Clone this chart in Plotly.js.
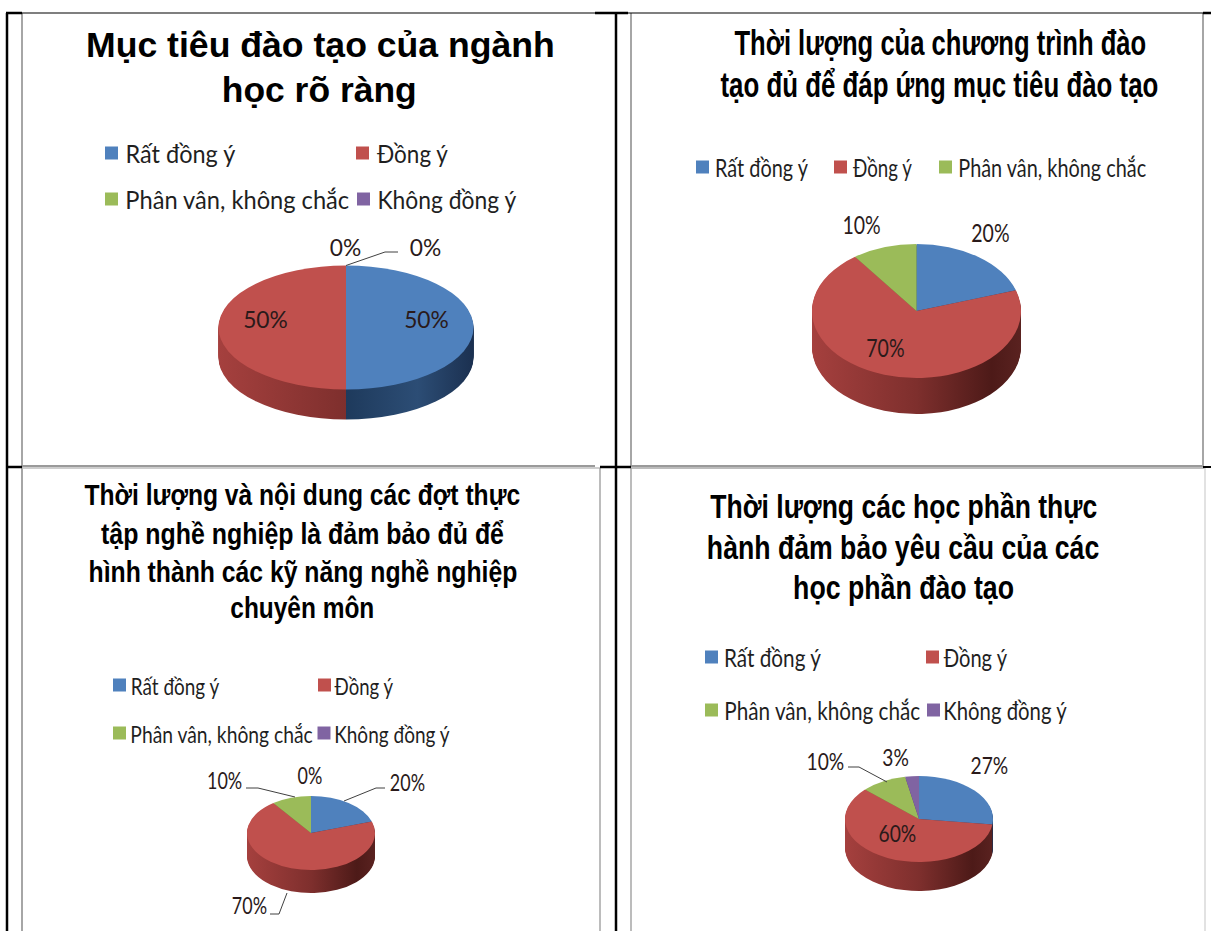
<!DOCTYPE html>
<html>
<head>
<meta charset="utf-8">
<title>Khảo sát chương trình đào tạo</title>
<script src="https://cdn.plot.ly/plotly-3.0.1.min.js"></script>
<style>html,body{margin:0;padding:0;background:#fff}#chart{width:1211px;height:931px}</style>
</head>
<body>
<div id="chart"></div>
<script>
// Survey answers, one array per question (percent of respondents).
const categories = ["Rất đồng ý", "Đồng ý", "Phân vân, không chắc", "Không đồng ý"];
const goalsClear = [50, 50, 0, 0];
const programLength = [20, 70, 10];
const internship = [20, 70, 10, 0];
const practiceModules = [27, 60, 10, 3];

const titleGoals = ["Mục tiêu đào tạo của ngành", "học rõ ràng"];
const titleProgram = ["Thời lượng của chương trình đào", "tạo đủ để đáp ứng mục tiêu đào tạo"];
const titleInternship = ["Thời lượng và nội dung các đợt thực", "tập nghề nghiệp là đảm bảo đủ để", "hình thành các kỹ năng nghề nghiệp", "chuyên môn"];
const titlePractice = ["Thời lượng các học phần thực", "hành đảm bảo yêu cầu của các", "học phần đào tạo"];

// Office-style slice colours and the side-wall shading for each of them.
const sliceColors = ["#4F81BD", "#C0504D", "#9BBB59", "#8064A2"];
const wallStops = [
  [[0, "#2a4a70"], [0.5, "#1e3a5c"], [0.78, "#2c4d75"], [1, "#1b3050"]],
  [[0, "#a5403e"], [0.5, "#7e2f2d"], [0.86, "#4d1a18"], [1, "#5a2220"]],
  [[0, "#6f8a3e"], [1, "#4f6330"]],
  [[0, "#5c4776"], [1, "#42335a"]]
];

const W = 1211, H = 931;
const px = x => x / W;
const py = y => 1 - y / H;

// Page layout for each of the four charts, in pixels.
const panels = [
  {
    values: goalsClear, title: titleGoals,
    pie: {cx: 346, cy: 327.5, rx: 127.5, ry: 62, depth: 30},
    titleFont: 35,
    titleLines: [[86, 555, 45], [222, 417, 89]],
    legendFont: 25,
    legend: [[105, 125, 235, 153], [356, 377, 448, 153], [105, 125, 349, 199], [357, 377, 516, 199]],
    labelFont: 24, labelStretch: 0.95,
    labels: [[426, 318], [265, 318], [345, 246], [425, 246]],
    leaders: [[[346, 265.5], [385, 252], [398, 252]]]
  },
  {
    values: programLength, title: titleProgram,
    pie: {cx: 916.5, cy: 311, rx: 104.5, ry: 67, depth: 36},
    titleFont: 35,
    titleLines: [[734, 1146, 43], [720, 1158, 85]],
    legendFont: 25,
    legend: [[696, 715, 808, 167], [834, 853, 912, 167], [939, 958, 1146, 167]],
    labelFont: 25, labelStretch: 0.78,
    labels: [[990, 232], [885, 347], [862, 224]],
    leaders: []
  },
  {
    values: internship, title: titleInternship,
    pie: {cx: 311, cy: 833, rx: 64, ry: 37, depth: 23},
    titleFont: 30,
    titleLines: [[84, 520, 494], [101, 504, 533], [88, 517, 571], [230, 374, 607]],
    legendFont: 24,
    legend: [[113, 130.5, 219.5, 685], [318, 334, 393, 685], [113, 130.5, 313, 733], [317.5, 334, 450, 733]],
    labelFont: 23, labelStretch: 0.78,
    labels: [[407, 782], [249, 905], [225, 780], [310, 775]],
    leaders: [
      [[246, 788], [258, 788], [295, 797]],
      [[385, 788], [376, 788], [344, 801]],
      [[270, 914], [279, 914], [287, 893]]
    ]
  },
  {
    values: practiceModules, title: titlePractice,
    pie: {cx: 919, cy: 819, rx: 74, ry: 43, depth: 29},
    titleFont: 33,
    titleLines: [[710, 1097, 507], [707, 1099.5, 547], [793, 1014, 587]],
    legendFont: 25,
    legend: [[705, 724, 821, 657], [926, 943.5, 1007, 657], [705, 724, 920, 710], [927, 943.5, 1067, 710]],
    labelFont: 24, labelStretch: 0.8,
    labels: [[989, 764], [897, 832], [825, 760], [895.5, 756]],
    leaders: [[[848, 767], [859, 767], [887, 782]]]
  }
];

// Table rules and chart frames: [x0, y0, x1, y1, colour, width].
const rules = [
  [22, 13, 22, 931, "#a6a6a6", 2], [22, 466, 595, 466, "#9a9a9a", 2], [22, 468, 600, 468, "#bdbdbd", 1.5],
  [600, 468, 600, 931, "#a6a6a6", 1.5], [631, 13, 631, 466, "#a6a6a6", 2], [631, 466, 1203, 466, "#9a9a9a", 2],
  [1203, 13, 1203, 466, "#a6a6a6", 2], [631, 468, 631, 931, "#a6a6a6", 1.5], [631, 468, 1205, 468, "#a6a6a6", 1.5],
  [1205, 468, 1205, 931, "#d9d9d9", 1.5],
  [7, 13, 7, 931, "#000", 2.5], [6, 13, 22, 13, "#000", 2.5], [22, 13, 595, 13, "#000", 1.2],
  [595, 13, 628, 13, "#000", 2.5], [628, 13, 1203, 13, "#000", 1.2], [1203, 13, 1211, 13, "#000", 2.5],
  [616, 13, 616, 931, "#000", 2.5], [7, 467, 22, 467, "#000", 2.5], [600, 467, 631, 467, "#000", 2.5],
  [1203, 467, 1211, 467, "#000", 2]
];

const traces = [], annotations = [], shapes = [], stretches = [], tilts = [];
const TITLE_FONT = "'Liberation Sans', Arial, sans-serif";
const BODY_FONT = "Lato, 'Open Sans', sans-serif";

// A text whose rendered width is fitted between x0 and x1 once it has been measured.
function fittedText(text, x0, x1, y, size, weightFamily, color) {
  stretches.push({index: annotations.length, cx: (x0 + x1) / 2, width: x1 - x0});
  annotations.push({
    text, x: px((x0 + x1) / 2), y: py(y), xref: "paper", yref: "paper",
    xanchor: "center", yanchor: "middle", showarrow: false,
    font: {family: weightFamily, size, color}
  });
}

panels.forEach((panel, panelIndex) => {
  const {cx, cy, rx, ry, depth} = panel.pie;
  const domain = {x: [px(cx - rx), px(cx + rx)], y: [py(cy + rx), py(cy - rx)]};
  const pieTrace = colors => ({
    type: "pie", values: panel.values, labels: categories.slice(0, panel.values.length),
    sort: false, direction: "clockwise", rotation: 0, textinfo: "none", hoverinfo: "skip",
    showlegend: false, domain, marker: {colors, line: {width: 0}}
  });

  // The side wall is a stack of copies of the pie, deepest first; the lit face goes on top.
  for (let d = depth; d >= 1; d--) {
    tilts.push({cy, dy: d, k: ry / rx, wall: panelIndex});
    traces.push(pieTrace(sliceColors));
  }
  tilts.push({cy, dy: 0, k: ry / rx, wall: null});
  traces.push(pieTrace(sliceColors));

  panel.title.forEach((line, i) => {
    const [x0, x1, y] = panel.titleLines[i];
    fittedText("<b>" + line + "</b>", x0, x1, y, panel.titleFont, TITLE_FONT, "#000");
  });

  panel.legend.forEach(([sq, x0, x1, y], i) => {
    const half = 6.5;
    shapes.push({
      type: "rect", xref: "paper", yref: "paper", layer: "above", line: {width: 0},
      fillcolor: sliceColors[i], x0: px(sq), x1: px(sq + 2 * half), y0: py(y + half), y1: py(y - half)
    });
    fittedText(categories[i], x0, x1, y, panel.legendFont, BODY_FONT, "#1f1f1f");
  });

  panel.values.forEach((v, i) => {
    const text = v + "%";
    const [x, y] = panel.labels[i];
    stretches.push({index: annotations.length, cx: x, factor: panel.labelStretch});
    annotations.push({
      text, x: px(x), y: py(y), xref: "paper", yref: "paper",
      xanchor: "center", yanchor: "middle", showarrow: false,
      font: {family: BODY_FONT, size: panel.labelFont, color: "#2a1a1a"}
    });
  });

  panel.leaders.forEach(points => {
    const d = points.map(([x, y], i) => (i ? "L" : "M") + px(x) + "," + py(y)).join(" ");
    shapes.push({type: "path", xref: "paper", yref: "paper", path: d, line: {color: "#404040", width: 1}, layer: "above"});
  });
});

rules.forEach(([x0, y0, x1, y1, color, width]) => {
  shapes.push({
    type: "line", xref: "paper", yref: "paper", layer: "above",
    x0: px(x0), y0: py(y0), x1: px(x1), y1: py(y1), line: {color, width}
  });
});

const layout = {
  width: W, height: H, margin: {l: 0, r: 0, t: 0, b: 0},
  paper_bgcolor: "#fff", showlegend: false, annotations, shapes
};

Plotly.newPlot("chart", traces, layout, {staticPlot: true, displayModeBar: false}).then(() => {
  const root = document.getElementById("chart");
  const svg = root.querySelector(".main-svg");
  const NS = "http://www.w3.org/2000/svg";
  const defs = svg.querySelector("defs") || svg.insertBefore(document.createElementNS(NS, "defs"), svg.firstChild);

  // Horizontal shading for the side walls, spanning each pie's width on the page.
  panels.forEach((panel, p) => {
    wallStops.forEach((stops, c) => {
      const g = document.createElementNS(NS, "linearGradient");
      g.setAttribute("id", "wall-" + p + "-" + c);
      g.setAttribute("gradientUnits", "userSpaceOnUse");
      g.setAttribute("x1", panel.pie.cx - panel.pie.rx);
      g.setAttribute("x2", panel.pie.cx + panel.pie.rx);
      g.setAttribute("y1", 0);
      g.setAttribute("y2", 0);
      stops.forEach(([offset, color]) => {
        const s = document.createElementNS(NS, "stop");
        s.setAttribute("offset", offset);
        s.setAttribute("stop-color", color);
        g.appendChild(s);
      });
      defs.appendChild(g);
    });
  });

  // Tilt each pie into an ellipse and drop the wall copies below the face.
  root.querySelectorAll(".pielayer .trace").forEach((group, i) => {
    const t = tilts[i];
    group.setAttribute("transform", `translate(0 ${t.cy + t.dy}) scale(1 ${t.k}) translate(0 ${-t.cy})`);
    if (t.wall !== null) {
      group.querySelectorAll(".slice").forEach((slice, s) => {
        const path = slice.querySelector("path.surface");
        if (path) path.style.fill = `url(#wall-${t.wall}-${s})`;
      });
    }
  });

  // Condense the texts horizontally to their measured extents.
  const groups = root.querySelectorAll(".annotation");
  stretches.forEach(({index, cx, width, factor}) => {
    const g = groups[index];
    if (!g) return;
    const sx = factor || width / g.querySelector("text").getBBox().width;
    g.setAttribute("transform", `translate(${cx} 0) scale(${sx} 1) translate(${-cx} 0)`);
  });
});
</script>
</body>
</html>
